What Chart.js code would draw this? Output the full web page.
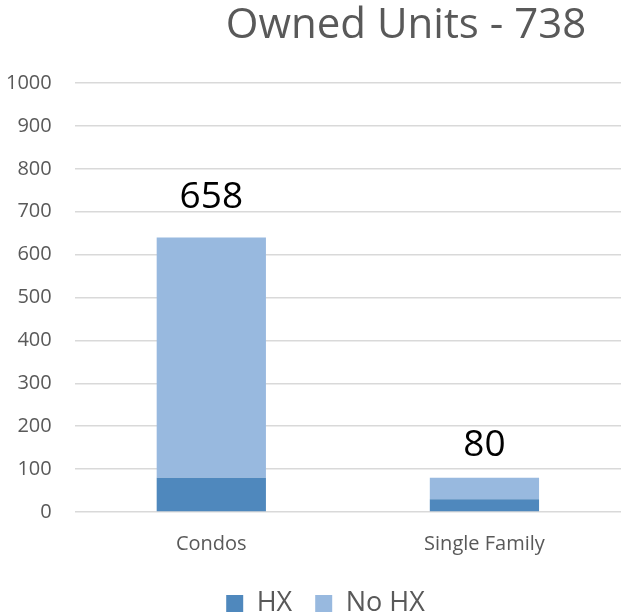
<!DOCTYPE html>
<html><head><meta charset="utf-8">
<script src="https://cdn.jsdelivr.net/npm/chart.js@4.4.0/dist/chart.umd.min.js"></script>
<style>html,body{margin:0;padding:0;background:#fff;}#wrap{width:623px;height:615px;}</style>
</head><body><div id="wrap"><canvas id="c" width="623" height="615"></canvas></div>
<script>
const chartTitle = 'Owned Units - 738';
const categories = ['Condos', 'Single Family'];
const seriesNames = ['HX', 'No HX'];
const hxValues = [80, 30];
const noHxValues = [560, 50];
const totalLabels = [658, 80];
const yTickValues = [0, 100, 200, 300, 400, 500, 600, 700, 800, 900, 1000];

const FONT = "'Open Sans', 'DejaVu Sans', sans-serif";
const GREY = '#595959';

const titlePlugin = {
  id: 'sideTitle',
  afterDraw(chart) {
    const ctx = chart.ctx;
    ctx.save();
    ctx.font = '42px ' + FONT;
    ctx.fillStyle = GREY;
    ctx.textAlign = 'center';
    ctx.textBaseline = 'alphabetic';
    ctx.fillText(chartTitle, 406, 38);
    ctx.restore();
  }
};

const totalsPlugin = {
  id: 'totals',
  afterDatasetsDraw(chart) {
    const ctx = chart.ctx;
    const meta = chart.getDatasetMeta(1);
    const y = chart.scales.y;
    ctx.save();
    ctx.font = '37px ' + FONT;
    ctx.fillStyle = '#000';
    ctx.textAlign = 'center';
    ctx.textBaseline = 'alphabetic';
    totalLabels.forEach((v, i) => {
      ctx.fillText(String(v), meta.data[i].x, y.getPixelForValue(v) - 22);
    });
    ctx.restore();
  }
};

const legendShift = {
  id: 'legendShift',
  afterInit(chart) {
    const lg = chart.legend;
    if (lg && !lg._patched) {
      const orig = lg.fit.bind(lg);
      lg.fit = function () { orig(); this.height -= 12; };
      lg._patched = true;
    }
  },
  afterLayout(chart) {
    const lg = chart.legend;
    if (lg) { lg.left += 12; lg.right += 12; }
  }
};

new Chart(document.getElementById('c'), {
  type: 'bar',
  data: {
    labels: categories,
    datasets: [
      { label: seriesNames[0], data: hxValues, backgroundColor: '#4f88bd', stack: 's' },
      { label: seriesNames[1], data: noHxValues, backgroundColor: '#98b9df', stack: 's' }
    ]
  },
  options: {
    responsive: false,
    animation: false,
    layout: { padding: { top: 83, left: 6, right: 2, bottom: 0 } },
    datasets: { bar: { categoryPercentage: 1, barPercentage: 0.4 } },
    plugins: {
      title: { display: false },
      tooltip: { enabled: false },
      legend: {
        position: 'bottom',
        labels: {
          boxWidth: 17, boxHeight: 17, padding: 23,
          color: GREY,
          font: { family: FONT, size: 27 }
        }
      }
    },
    scales: {
      x: {
        stacked: true,
        grid: { display: false, drawTicks: false },
        border: { display: false },
        afterFit(scale) { scale.height -= 9; },
        ticks: { color: GREY, padding: 20, font: { family: FONT, size: 20 } }
      },
      y: {
        stacked: true,
        min: 0, max: 1000,
        afterBuildTicks(scale) { scale.ticks = yTickValues.map(v => ({ value: v })); },
        afterFit(scale) { scale.width -= 23; },
        grid: { color: '#d9d9d9', lineWidth: 1.5, drawTicks: false },
        border: { display: false },
        ticks: { color: GREY, padding: 23, font: { family: FONT, size: 20 }, callback: v => String(v) }
      }
    }
  },
  plugins: [titlePlugin, totalsPlugin, legendShift]
});
</script></body></html>
